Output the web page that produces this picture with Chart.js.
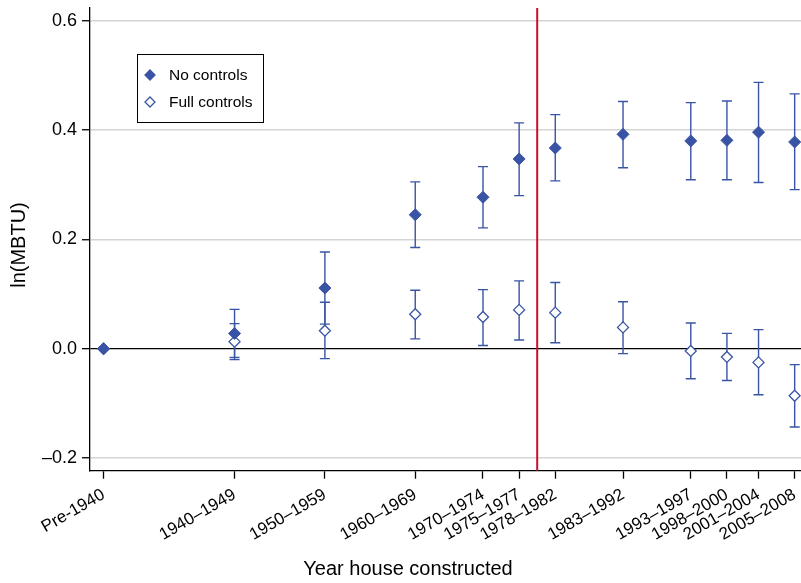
<!DOCTYPE html>
<html>
<head>
<meta charset="utf-8">
<script src="https://cdn.jsdelivr.net/npm/chart.js@4.4.1/dist/chart.umd.min.js"></script>
<style>
  html, body { margin: 0; padding: 0; background: #fff; }
  #wrap { width: 801px; height: 583px; }
</style>
</head>
<body>
<div id="wrap"><canvas id="chart"></canvas></div>
<script>
// categories and where they sit on the year axis (bin midpoints)
const categories = ['Pre-1940', '1940–1949', '1950–1959', '1960–1969', '1970–1974', '1975–1977',
                    '1978–1982', '1983–1992', '1993–1997', '1998–2000', '2001–2004', '2005–2008'];
const yearMid = [1930, 1944.5, 1954.5, 1964.5, 1972, 1976, 1980, 1987.5, 1995, 1999, 2002.5, 2006.5];

// No controls: estimate + 95% CI
const noControls   = [0, 0.028, 0.111, 0.245, 0.277, 0.347, 0.367, 0.392, 0.380, 0.381, 0.396, 0.378];
const noControlsLo = [null, -0.016, 0.045, 0.185, 0.221, 0.280, 0.307, 0.331, 0.309, 0.309, 0.304, 0.291];
const noControlsHi = [null, 0.072, 0.177, 0.305, 0.333, 0.413, 0.428, 0.452, 0.450, 0.453, 0.487, 0.466];

// Full controls: estimate + 95% CI
const fullControls   = [0, 0.013, 0.033, 0.063, 0.058, 0.071, 0.066, 0.039, -0.004, -0.015, -0.025, -0.086];
const fullControlsLo = [null, -0.020, -0.018, 0.018, 0.006, 0.016, 0.011, -0.009, -0.055, -0.058, -0.084, -0.143];
const fullControlsHi = [null, 0.046, 0.085, 0.107, 0.108, 0.124, 0.121, 0.086, 0.047, 0.028, 0.035, -0.029];

const yTicks = [-0.2, 0, 0.2, 0.4, 0.6];
const cutoffYear = 1978;

const BLUE = '#3a54a5';
const FONT = "'Liberation Sans', Arial, Helvetica, sans-serif";

function points(est, lo, hi) {
    return yearMid.map((x, i) => ({x: x, y: est[i], lo: lo[i], hi: hi[i]}));
}

// error bars + red cutoff line, under the markers
const errorBars = {
    id: 'errorBars',
    beforeDatasetsDraw(chart) {
        const {ctx, chartArea, scales: {x, y}} = chart;
        ctx.save();
        const cx = x.getPixelForValue(cutoffYear);
        ctx.strokeStyle = '#c8102e';
        ctx.lineWidth = 2;
        ctx.beginPath();
        ctx.moveTo(cx, chartArea.top);
        ctx.lineTo(cx, chartArea.bottom);
        ctx.stroke();

        chart.data.datasets.forEach(ds => {
            ctx.strokeStyle = ds.borderColor;
            ctx.lineWidth = 1.4;
            ds.data.forEach(p => {
                if (p.lo == null) return;
                const px = x.getPixelForValue(p.x);
                const top = y.getPixelForValue(p.hi);
                const bot = y.getPixelForValue(p.lo);
                ctx.beginPath();
                ctx.moveTo(px, top); ctx.lineTo(px, bot);
                ctx.moveTo(px - 5, top); ctx.lineTo(px + 5, top);
                ctx.moveTo(px - 5, bot); ctx.lineTo(px + 5, bot);
                ctx.stroke();
            });
        });
        ctx.restore();
    }
};

// boxed legend inside the plot + axis titles
const decorations = {
    id: 'decorations',
    afterDraw(chart) {
        const ctx = chart.ctx;
        ctx.save();
        ctx.fillStyle = '#fff';
        ctx.fillRect(137.5, 54.5, 126, 68);
        ctx.strokeStyle = '#000';
        ctx.lineWidth = 1;
        ctx.strokeRect(137.5, 54.5, 126, 68);

        const rows = [75, 102];
        chart.data.datasets.forEach((ds, i) => {
            const my = rows[i];
            ctx.beginPath();
            ctx.moveTo(150, my - 5); ctx.lineTo(155, my); ctx.lineTo(150, my + 5); ctx.lineTo(145, my);
            ctx.closePath();
            ctx.fillStyle = ds.backgroundColor;
            ctx.fill();
            ctx.strokeStyle = ds.borderColor;
            ctx.lineWidth = 1.3;
            ctx.stroke();
            ctx.fillStyle = '#000';
            ctx.font = '15.5px ' + FONT;
            ctx.textBaseline = 'middle';
            ctx.textAlign = 'left';
            ctx.fillText(ds.label, 169, my + 1);
        });

        ctx.fillStyle = '#000';
        ctx.font = '20px ' + FONT;
        ctx.textAlign = 'center';
        ctx.textBaseline = 'middle';
        ctx.fillText('Year house constructed', 408, 569);

        ctx.translate(19, 245);
        ctx.rotate(-Math.PI / 2);
        ctx.fillText('ln(MBTU)', 0, 0);
        ctx.restore();
    }
};

const ctx = document.getElementById('chart').getContext('2d');
const chart = new Chart(ctx, {
    type: 'scatter',
    data: {
        datasets: [{
            label: 'No controls',
            data: points(noControls, noControlsLo, noControlsHi),
            pointStyle: 'rectRot',
            pointRadius: 6,
            backgroundColor: BLUE,
            borderColor: BLUE,
            borderWidth: 1
        }, {
            label: 'Full controls',
            data: points(fullControls, fullControlsLo, fullControlsHi),
            pointStyle: 'rectRot',
            pointRadius: 5.5,
            backgroundColor: '#fff',
            borderColor: BLUE,
            borderWidth: 1.3
        }]
    },
    options: {
        responsive: true,
        maintainAspectRatio: false,
        animation: false,
        layout: { autoPadding: false, padding: { top: 8, right: 0, left: 0, bottom: 0 } },
        plugins: { legend: { display: false }, tooltip: { enabled: false } },
        scales: {
            x: {
                type: 'linear',
                min: 1928.5,
                max: 2007.2,
                afterBuildTicks: s => { s.ticks = yearMid.map(v => ({value: v})); },
                afterFit: s => { s.height = 112.3; s.paddingLeft = 0; s.paddingRight = 0; },
                ticks: {
                    autoSkip: false,
                    minRotation: 30,
                    maxRotation: 30,
                    color: '#000',
                    font: { family: FONT, size: 17 },
                    padding: 6,
                    callback: (v, i) => categories[i]
                },
                grid: { drawOnChartArea: false, drawTicks: true, tickLength: 8, tickColor: '#000', tickWidth: 1.3 },
                border: { display: true, color: '#000', width: 1.3 }
            },
            y: {
                min: -0.223,
                max: 0.623,
                afterBuildTicks: s => { s.ticks = yTicks.map(v => ({value: v})); },
                afterFit: s => { s.width = 90; s.paddingTop = 0; s.paddingBottom = 0; },
                ticks: {
                    color: '#000',
                    font: { family: FONT, size: 18 },
                    padding: 5,
                    callback: v => (v < 0 ? '–' : '') + Math.abs(v).toFixed(1)
                },
                grid: {
                    color: c => (c.tick && c.tick.value === 0) ? '#000' : '#d4d4d4',
                    lineWidth: c => (c.tick && c.tick.value === 0) ? 1.3 : 1.5,
                    tickColor: '#000',
                    tickLength: 8,
                    tickWidth: 1.3
                },
                border: { display: true, color: '#000', width: 1.3 }
            }
        }
    },
    plugins: [errorBars, decorations]
});
</script>
</body>
</html>
